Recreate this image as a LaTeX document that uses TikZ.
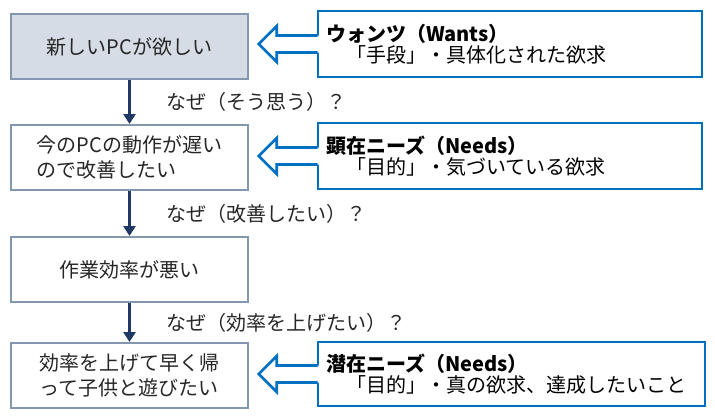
\documentclass[tikz,border=0pt]{standalone}
\usepackage{fontspec}
\setmainfont{Noto Sans CJK JP}
\usetikzlibrary{positioning}
\usetikzlibrary{calc}
\usetikzlibrary{arrows.meta}
\definecolor{navy}{RGB}{32,56,100}
\definecolor{slate}{RGB}{132,151,176}
\definecolor{paleslate}{RGB}{214,220,229}
\definecolor{blue}{RGB}{0,112,192}
\definecolor{ink}{RGB}{38,38,38}

\begin{document}
\begin{tikzpicture}[x=0.75pt,y=-0.75pt]
			\tikzstyle{stepbox}=[draw=slate, line width=1.5pt, minimum width=177.75pt, minimum height=48.75pt, align=left, text=ink, font=\fontsize{15}{18.75}\selectfont]
			\tikzstyle{needbox}=[draw=blue, line width=2pt, minimum height=49.5pt, text width=276pt, inner xsep=6pt, align=left, text=black, font=\fontsize{15}{15.75}\selectfont]
			\tikzstyle{why}=[-{Triangle[length=7.5pt,width=9pt]}, navy, line width=2.25pt]
			\tikzstyle{whytext}=[text=ink, font=\fontsize{15}{18}\selectfont]
			\tikzstyle{hollow}=[draw=blue, line width=2pt, line join=miter]
			
			\useasboundingbox (0,0) rectangle (715,415);
			
			\draw node at (129.5,46.5) [stepbox, fill=paleslate] (s1) {新しいPCが欲しい};
			\draw node at (129.5,157.5) [stepbox] (s2) {今のPCの動作が遅い\\ので改善したい};
			\draw node at (129.5,269.5) [stepbox] (s3) {作業効率が悪い};
			\draw node at (129.5,375.5) [stepbox] (s4) {効率を上げて早く帰\\って子供と遊びたい};
			
			\draw [why]  (s1) to node[right=23pt, whytext] (q1) {なぜ（そう思う）？} (s2);
			\draw [why]  (s2) to node[right=23pt, whytext] (q2) {なぜ（改善したい）？} (s3);
			\draw [why]  (s3) to node[right=23pt, whytext] (q3) {なぜ（効率を上げたい）？} (s4);
			
			\draw node at (510,44) [needbox] (w1) {\textbf{ウォンツ（Wants）}\\\hspace*{1em}「手段」・具体化された欲求};
			\draw node at (510,156) [needbox] (w2) {\textbf{顕在ニーズ（Needs）}\\\hspace*{1em}「目的」・気づいている欲求};
			\draw node at (511.5,374) [needbox, text width=278.25pt, minimum height=48pt] (w3) {\textbf{潜在ニーズ（Needs）}\\\hspace*{1em}「目的」・真の欲求、達成したいこと};
			
			% hollow arrows from the right boxes
			\fill [white] ($(w1.west)+(3,-8.5)$) -- ++(-43,0) -- ++(0,-9.5) -- ++(-18,18) -- ++(18,18) -- ++(0,-9.5) -- ++(43,0) -- cycle;
			\draw [hollow] ($(w1.west)+(1,-8.5)$) -- ++(-41,0) -- ++(0,-9.5) -- ++(-18,18) -- ++(18,18) -- ++(0,-9.5) -- ++(41,0);
			\fill [white] ($(w2.west)+(3,-8.5)$) -- ++(-43,0) -- ++(0,-9.5) -- ++(-18,18) -- ++(18,18) -- ++(0,-9.5) -- ++(43,0) -- cycle;
			\draw [hollow] ($(w2.west)+(1,-8.5)$) -- ++(-41,0) -- ++(0,-9.5) -- ++(-18,18) -- ++(18,18) -- ++(0,-9.5) -- ++(41,0);
			\fill [white] ($(w3.west)+(3,-8.5)$) -- ++(-43,0) -- ++(0,-9.5) -- ++(-18,18) -- ++(18,18) -- ++(0,-9.5) -- ++(43,0) -- cycle;
			\draw [hollow] ($(w3.west)+(1,-8.5)$) -- ++(-41,0) -- ++(0,-9.5) -- ++(-18,18) -- ++(18,18) -- ++(0,-9.5) -- ++(41,0);
\end{tikzpicture}
\end{document}
